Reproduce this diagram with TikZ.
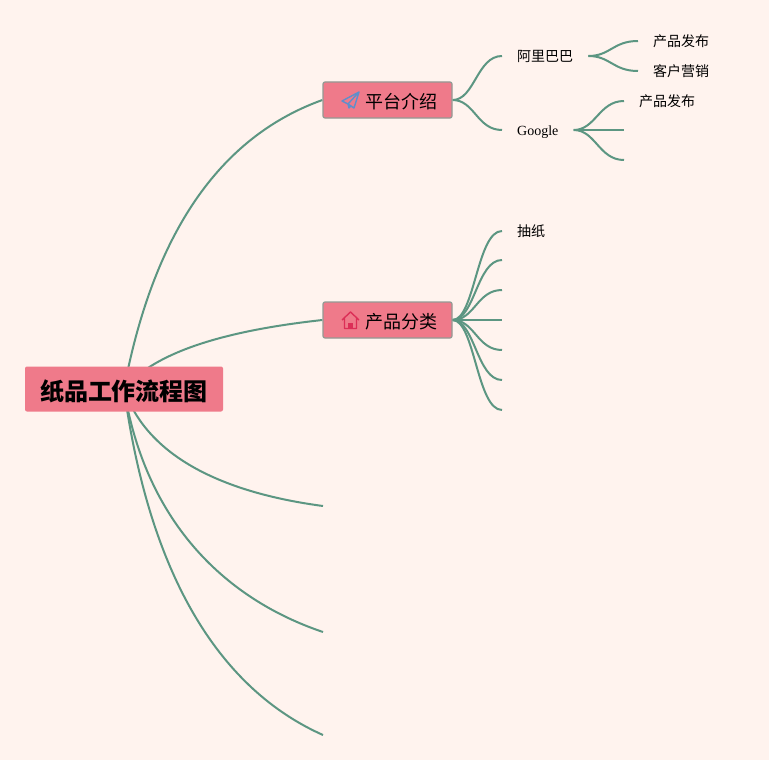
\documentclass[tikz,border=0pt]{standalone}
\usepackage{fontspec}
\setmainfont{Liberation Serif}
\newfontfamily\cjk{Noto Sans CJK SC}
\usepackage{xcolor}
\usepackage{tikz}
\usetikzlibrary{positioning,backgrounds}

\definecolor{pagebg}{HTML}{FFF3EE}
\definecolor{boxpink}{HTML}{EF7A8A}
\definecolor{boxedge}{HTML}{939A94}
\definecolor{linkgreen}{HTML}{5C9682}
\definecolor{planeblue}{HTML}{5F8FCB}
\definecolor{housered}{HTML}{DC2F57}

\begin{document}
\begin{tikzpicture}[
    x=1pt, y=-1pt,
    rootbox/.style={fill=boxpink, rounded corners=2pt, minimum width=198pt, minimum height=45pt, inner sep=0pt, text height=22pt, text depth=0pt, font=\cjk\bfseries\fontsize{24}{24}\selectfont},
    topicbox/.style={draw=boxedge, line width=1.2pt, fill=boxpink, rounded corners=2pt, minimum width=129pt, minimum height=36pt, text width=99pt, inner xsep=15pt, inner ysep=0pt, text height=16.6pt, text depth=0pt, align=right, font=\cjk\fontsize{18}{18}\selectfont},
    leaf/.style={anchor=west, inner xsep=15pt, inner ysep=0pt, font=\cjk\fontsize{14}{14}\selectfont},
    link/.style={draw=linkgreen, line width=2pt},
    icon/.style={line width=1.4pt, line join=round}
]

\useasboundingbox (0,0) rectangle (769,760);

% root
\node[rootbox] (root) at (124,389) {纸品工作流程图};

% first level
\node[topicbox] (intro) at (387.5,100) {平台介绍};
\node[topicbox] (sorts) at (387.5,320) {产品分类};

% free ends on the left
\coordinate (topicc) at (323,506);
\coordinate (topicd) at (323,632);
\coordinate (topice) at (323,735);

% platform branch
\node[leaf] (alibaba) at (502,56) {阿里巴巴};
\node[leaf, font=\fontsize{14}{14}\selectfont, text height=11pt, text depth=0pt] (google) at (502,130) {Google};
\node[leaf] (alipub) at (638,41) {产品发布};
\node[leaf] (alisale) at (638,71) {客户营销};
\node[leaf] (googlepub) at (624,101) {产品发布};
\coordinate (googleb) at (624,130);
\coordinate (googlec) at (624,160);

% sorts branch
\node[leaf] (paper) at (502,231) {抽纸};
\coordinate (sortb) at (502,260);
\coordinate (sortc) at (502,290);
\coordinate (sortd) at (502,320);
\coordinate (sorte) at (502,350);
\coordinate (sortf) at (502,380);
\coordinate (sortg) at (502,410);

% plane icon
\draw[icon, draw=planeblue] (359,92) -- (342,101) -- (348,104) -- (354,108) -- cycle
    (359,92) -- (348,104) -- (349,108) -- (351,106);

% house icon
\draw[icon, draw=housered] (342,320) -- (350.5,312) -- (359,320) (344.5,318) -- (344.5,328.5) -- (356.5,328.5) -- (356.5,318);
\fill[housered] (348,328.5) rectangle (353,322.5);

\begin{scope}[on background layer]
\fill[pagebg] (0,0) rectangle (769,760);

% root links
\draw[link] (root.center) .. controls (155,225) and (225,135) .. (intro.west);
\draw[link] (root.center) .. controls (160,345) and (250,328) .. (sorts.west);
\draw[link] (root.center) .. controls (150,465) and (240,495) .. (topicc);
\draw[link] (root.center) .. controls (146,525) and (228,600) .. (topicd);
\draw[link] (root.center) .. controls (150,580) and (222,690) .. (topice);

% second level links
\foreach \target in {alibaba,google}
    \draw[link] (intro.east) .. controls +(22,0) and +(-25,0) .. (\target.west);
\foreach \target in {alipub,alisale}
    \draw[link] (alibaba.east) .. controls +(22,0) and +(-25,0) .. (\target.west);
\draw[link] (google.east) .. controls +(22,0) and +(-25,0) .. (googlepub.west);
\foreach \target in {googleb,googlec}
    \draw[link] (google.east) .. controls +(22,0) and +(-25,0) .. (\target);
\draw[link] (sorts.east) .. controls +(22,0) and +(-25,0) .. (paper.west);
\foreach \target in {sortb,sortc,sortd,sorte,sortf,sortg}
    \draw[link] (sorts.east) .. controls +(22,0) and +(-25,0) .. (\target);
\end{scope}

\end{tikzpicture}
\end{document}
